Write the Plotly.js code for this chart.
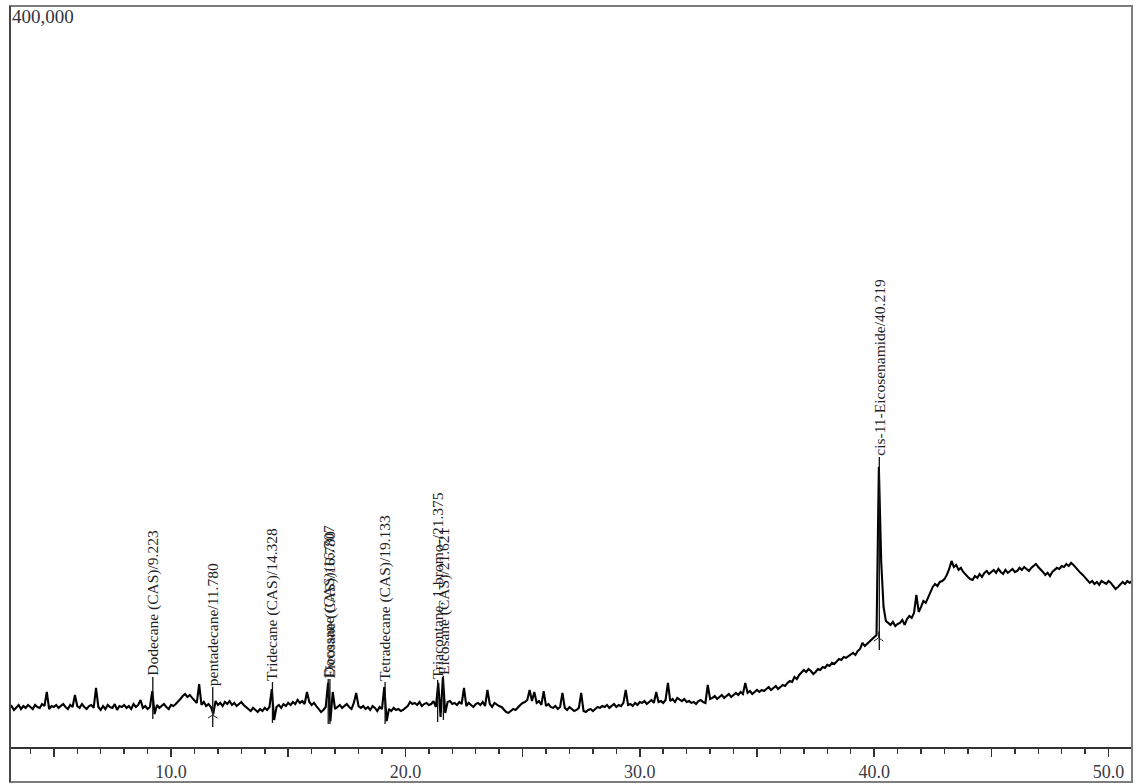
<!DOCTYPE html>
<html>
<head>
<meta charset="utf-8">
<script src="https://cdn.plot.ly/plotly-3.0.1.min.js"></script>
<style>
  html, body { margin: 0; padding: 0; background: #ffffff; }
  #chart { width: 1136px; height: 784px; }
</style>
</head>
<body>
<div id="chart"></div>
<script>
// Total ion chromatogram: retention time (min) and detector counts
const retentionTime = [
  3.1,3.2,3.3,3.4,3.5,3.6,3.7,3.8,3.9,4.0,
  4.1,4.2,4.3,4.4,4.5,4.6,4.7,4.8,4.9,5.0,
  5.1,5.2,5.3,5.4,5.5,5.6,5.7,5.8,5.9,6.0,
  6.1,6.2,6.3,6.4,6.5,6.6,6.7,6.8,6.9,7.0,
  7.1,7.2,7.3,7.4,7.5,7.6,7.7,7.8,7.9,8.0,
  8.1,8.2,8.3,8.4,8.5,8.6,8.7,8.8,8.9,9.0,
  9.1,9.2,9.3,9.4,9.5,9.6,9.7,9.8,9.9,10.0,
  10.1,10.2,10.3,10.4,10.5,10.6,10.7,10.8,10.9,11.0,
  11.1,11.2,11.3,11.4,11.5,11.6,11.7,11.8,11.9,12.0,
  12.1,12.2,12.3,12.4,12.5,12.6,12.7,12.8,12.9,13.0,
  13.1,13.2,13.3,13.4,13.5,13.6,13.7,13.8,13.9,14.0,
  14.1,14.2,14.3,14.4,14.5,14.6,14.7,14.8,14.9,15.0,
  15.1,15.2,15.3,15.4,15.5,15.6,15.7,15.8,15.9,16.0,
  16.1,16.2,16.3,16.4,16.5,16.6,16.7,16.8,16.9,17.0,
  17.1,17.2,17.3,17.4,17.5,17.6,17.7,17.8,17.9,18.0,
  18.1,18.2,18.3,18.4,18.5,18.6,18.7,18.8,18.9,19.0,
  19.1,19.2,19.3,19.4,19.5,19.6,19.7,19.8,19.9,20.0,
  20.1,20.2,20.3,20.4,20.5,20.6,20.7,20.8,20.9,21.0,
  21.1,21.2,21.3,21.4,21.5,21.6,21.7,21.8,21.9,22.0,
  22.1,22.2,22.3,22.4,22.5,22.6,22.7,22.8,22.9,23.0,
  23.1,23.2,23.3,23.4,23.5,23.6,23.7,23.8,23.9,24.0,
  24.1,24.2,24.3,24.4,24.5,24.6,24.7,24.8,24.9,25.0,
  25.1,25.2,25.3,25.4,25.5,25.6,25.7,25.8,25.9,26.0,
  26.1,26.2,26.3,26.4,26.5,26.6,26.7,26.8,26.9,27.0,
  27.1,27.2,27.3,27.4,27.5,27.6,27.7,27.8,27.9,28.0,
  28.1,28.2,28.3,28.4,28.5,28.6,28.7,28.8,28.9,29.0,
  29.1,29.2,29.3,29.4,29.5,29.6,29.7,29.8,29.9,30.0,
  30.1,30.2,30.3,30.4,30.5,30.6,30.7,30.8,30.9,31.0,
  31.1,31.2,31.3,31.4,31.5,31.6,31.7,31.8,31.9,32.0,
  32.1,32.2,32.3,32.4,32.5,32.6,32.7,32.8,32.9,33.0,
  33.1,33.2,33.3,33.4,33.5,33.6,33.7,33.8,33.9,34.0,
  34.1,34.2,34.3,34.4,34.5,34.6,34.7,34.8,34.9,35.0,
  35.1,35.2,35.3,35.4,35.5,35.6,35.7,35.8,35.9,36.0,
  36.1,36.2,36.3,36.4,36.5,36.6,36.7,36.8,36.9,37.0,
  37.1,37.2,37.3,37.4,37.5,37.6,37.7,37.8,37.9,38.0,
  38.1,38.2,38.3,38.4,38.5,38.6,38.7,38.8,38.9,39.0,
  39.1,39.2,39.3,39.4,39.5,39.6,39.7,39.8,39.9,40.0,
  40.1,40.2,40.3,40.4,40.5,40.6,40.7,40.8,40.9,41.0,
  41.1,41.2,41.3,41.4,41.5,41.6,41.7,41.8,41.9,42.0,
  42.1,42.2,42.3,42.4,42.5,42.6,42.7,42.8,42.9,43.0,
  43.1,43.2,43.3,43.4,43.5,43.6,43.7,43.8,43.9,44.0,
  44.1,44.2,44.3,44.4,44.5,44.6,44.7,44.8,44.9,45.0,
  45.1,45.2,45.3,45.4,45.5,45.6,45.7,45.8,45.9,46.0,
  46.1,46.2,46.3,46.4,46.5,46.6,46.7,46.8,46.9,47.0,
  47.1,47.2,47.3,47.4,47.5,47.6,47.7,47.8,47.9,48.0,
  48.1,48.2,48.3,48.4,48.5,48.6,48.7,48.8,48.9,49.0,
  49.1,49.2,49.3,49.4,49.5,49.6,49.7,49.8,49.9,50.0,
  50.1,50.2,50.3,50.4,50.5,50.6,50.7,50.8,50.9,51.0
];

const ticCounts = [
  21100,22100,20000,21600,22700,20500,22100,21100,22700,21600,
  20500,22700,21600,21100,23200,22100,29700,20500,22100,21600,
  22700,21100,22100,23200,21600,20500,22700,21600,28100,22100,
  21100,23200,21600,20500,22100,22700,21100,31900,21600,20000,
  22100,20500,22700,21600,21100,23200,20000,22100,21600,22700,
  21100,22100,20500,23200,21600,22700,25400,21100,22100,20500,
  21600,30200,17800,22700,21100,22100,23200,21600,20500,22700,
  22100,23200,24300,25900,27500,28600,27000,28100,26500,25400,
  23800,34000,22700,24300,22100,23200,21600,17800,24800,22700,
  23800,22100,24300,23200,24800,22700,23800,22100,23200,24300,
  22700,21600,20500,19400,21100,20000,18900,20500,19400,21100,
  20000,21600,31300,14600,21600,22700,21100,23200,22100,23800,
  22700,24300,23200,25400,23800,24800,23200,29700,24300,22700,
  23800,22100,20500,18900,20000,21600,34600,14000,29700,20500,
  21600,22700,21100,22100,23200,21600,20500,23800,29200,22100,
  21100,22100,20500,21600,20000,22100,21100,19400,21600,20500,
  32400,14000,20500,19400,21100,20000,20500,19400,20000,21100,
  22100,24300,23200,23800,22700,24300,22100,23200,23800,22700,
  23200,24800,21600,34600,16200,37800,18400,24300,24800,23200,
  23800,22700,24300,23200,31900,22100,23800,22700,21600,23200,
  23800,22700,24300,22100,30800,23200,21600,23800,22700,22100,
  21600,20000,18900,18400,19400,20500,20000,21600,22700,23800,
  24300,25400,30800,24800,29700,23800,24800,22700,30200,22100,
  23200,21600,21100,22100,20500,21600,29200,21100,20000,21600,
  20500,19400,20000,21100,29200,19400,18900,20000,20500,19400,
  20500,21600,21100,22100,21600,22700,21100,22100,23200,21600,
  22700,22100,23800,30800,22700,23200,22100,23800,22700,24300,
  23800,24800,23200,24300,25400,23800,29700,24300,24800,23800,
  25400,34600,24800,25900,24300,26500,25400,24800,25900,24300,
  24800,23800,24300,23200,24800,25400,24300,23800,33500,25900,
  26500,27500,25900,27000,28100,26500,27500,28600,27000,28100,
  29200,28100,29700,28600,34600,29200,30200,28600,29700,30800,
  29700,30800,30200,31300,32400,30800,31900,32900,31300,32400,
  33500,32900,34600,35600,35100,37800,36700,38900,40000,41600,
  40500,42100,41000,39400,40500,42100,41600,43200,42700,44300,
  43700,45400,44800,46400,47500,47000,48600,48100,49100,50200,
  50800,49700,51800,52900,56200,54500,55600,57200,58300,58900,
  60500,151200,99900,75600,68000,67000,65900,67500,65300,66400,
  67000,68600,65900,69100,70700,69700,72400,82100,72900,75600,
  78800,77800,81000,84200,86400,88000,86900,89100,89600,90700,
  92900,96100,100400,97200,98300,95600,96700,94500,92900,91800,
  90700,90200,92300,91300,93400,91800,94000,95000,93400,94500,
  95600,94000,96100,94500,93400,95600,94000,95000,96100,94500,
  95000,96700,95600,97200,96100,95000,96700,97700,98800,97200,
  96100,94500,92900,94000,92300,94500,95600,96700,96100,97700,
  97200,98800,97700,99400,98300,96700,95600,94000,92900,91300,
  90200,88600,89600,88000,89100,87500,89600,88600,88000,89600,
  88600,86900,85300,86400,87500,89100,88000,89600,88600,89600
];

// Identified peaks: retention time, compound name, leader line span (counts)
const peakTimes = [9.223, 11.780, 14.328, 16.707, 16.780, 19.133, 21.375, 21.621, 40.219];
const peakNames = [
  'Dodecane (CAS)', 'pentadecane', 'Tridecane (CAS)', 'Docosane (CAS)', 'Eicosane (CAS)',
  'Tetradecane (CAS)', 'Triacontane, 1-bromo-', 'Eicosane (CAS)', 'cis-11-Eicosenamide'
];
const peakLineTop = [37800, 32400, 35100, 36700, 36700, 35100, 36200, 38300, 156600];
const peakLineBottom = [15100, 10800, 13000, 12400, 12400, 12400, 13500, 14600, 52400];

// Integration start marks
const markTimes = [11.780, 40.190];
const markCounts = [17300, 58900];

// Axis scale
const axisTop = 400000;
const axisTopLabel = '400,000';
const xTickVals = [5, 10, 15, 20, 25, 30, 35, 40, 45, 50];
const xTickText = ['', '10.0', '', '20.0', '', '30.0', '', '40.0', '', '50.0'];

const serif = 'Liberation Serif, Times New Roman, serif';

// Leader lines: one vertical segment per identified peak
const leaderX = [], leaderY = [];
peakTimes.forEach((t, i) => {
  leaderX.push(t, t, null);
  leaderY.push(peakLineBottom[i], peakLineTop[i], null);
});

const traces = [
  {
    x: retentionTime, y: ticCounts, type: 'scatter', mode: 'lines',
    line: { color: '#000000', width: 2.1 }, hoverinfo: 'x+y'
  },
  {
    x: leaderX, y: leaderY, type: 'scatter', mode: 'lines',
    line: { color: '#111111', width: 1.3 }, hoverinfo: 'skip'
  },
  {
    x: markTimes, y: markCounts, type: 'scatter', mode: 'markers',
    marker: { symbol: 'y-up', size: 8, color: '#222222', line: { color: '#222222', width: 1 } },
    hoverinfo: 'skip'
  }
];

const annotations = peakTimes.map((t, i) => ({
  x: t, y: peakLineTop[i], xref: 'x', yref: 'y',
  text: peakNames[i] + '/' + t.toFixed(3),
  textangle: -90, showarrow: false,
  xanchor: 'center', yanchor: 'bottom', borderpad: 0,
  font: { family: serif, size: 15.5, color: '#1e1e24' }
}));

annotations.push({
  x: 0, y: 1, xref: 'paper', yref: 'paper',
  text: axisTopLabel, showarrow: false,
  xanchor: 'left', yanchor: 'top', borderpad: 0, yshift: 1, xshift: 1,
  font: { family: serif, size: 19, color: '#34343e' }
});

const plotH = 784 - 6 - 37;
const frameBottom = -35 / plotH;

const layout = {
  width: 1136, height: 784,
  margin: { l: 10, r: 4, t: 6, b: 37, pad: 0 },
  paper_bgcolor: '#ffffff', plot_bgcolor: '#ffffff',
  showlegend: false,
  xaxis: {
    range: [3.13, 51.0],
    showgrid: false, zeroline: false,
    showline: true, linecolor: '#333333', linewidth: 1.5,
    ticks: 'outside', tickmode: 'array', tickvals: xTickVals, ticktext: xTickText,
    ticklen: 8, tickwidth: 1.5, tickcolor: '#333333',
    tickfont: { family: serif, size: 18, color: '#3a3a48' },
    ticklabelstandoff: 0,
    minor: { dtick: 1, tick0: 0, ticks: 'outside', ticklen: 5, tickwidth: 1.5, tickcolor: '#333333', showgrid: false }
  },
  yaxis: {
    range: [0, axisTop],
    showgrid: false, zeroline: false, showline: false,
    showticklabels: false, ticks: ''
  },
  shapes: [
    { type: 'rect', xref: 'paper', yref: 'paper', x0: 0, x1: 1, y0: frameBottom, y1: 1,
      line: { color: '#7d7d7d', width: 2 }, layer: 'above' },
    { type: 'line', xref: 'paper', yref: 'paper', x0: 0, x1: 0, y0: frameBottom, y1: 1,
      line: { color: '#333333', width: 1.5 }, layer: 'above' }
  ],
  annotations: annotations
};

Plotly.newPlot('chart', traces, layout, { displayModeBar: false, staticPlot: true });
</script>
</body>
</html>
